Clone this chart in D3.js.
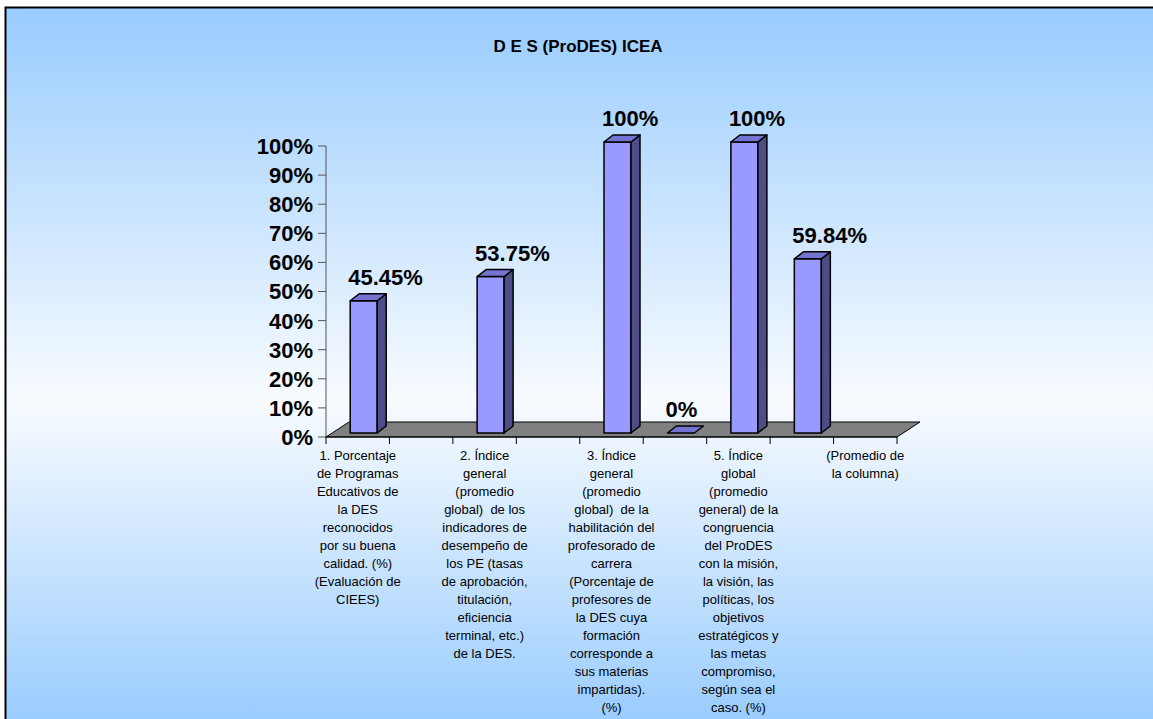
<!DOCTYPE html>
<meta charset="utf-8">
<style>
body { margin: 0; background: #fff; }
text { font-family: "Liberation Sans", Arial, sans-serif; fill: #000; }
.titre { font-size: 17px; font-weight: bold; text-anchor: middle; }
.ytick { font-size: 22px; font-weight: bold; text-anchor: end; }
.valeur { font-size: 22px; font-weight: bold; }
.cat { font-size: 13px; text-anchor: middle; white-space: pre; }
</style>
<svg width="1153" height="719" id="mysvg"></svg>
<script src="https://cdnjs.cloudflare.com/ajax/libs/d3/7.8.5/d3.min.js"></script>
<script>

var titre = "D E S (ProDES) ICEA";

// 9 categories; the chart only shows every other label
var categories = [
  "1. Porcentaje|de Programas|Educativos de|la DES|reconocidos|por su buena|calidad. (%)|(Evaluación de|CIEES)",
  "",
  "2. Índice|general|(promedio|global)  de los|indicadores de|desempeño de|los PE (tasas|de aprobación,|titulación,|eficiencia|terminal, etc.)|de la DES.",
  "",
  "3. Índice|general|(promedio|global)  de la|habilitación del|profesorado de|carrera|(Porcentaje de|profesores de|la DES cuya|formación|corresponde a|sus materias|impartidas).|(%)",
  "",
  "5. Índice|global|(promedio|general) de la|congruencia|del ProDES|con la misión,|la visión, las|políticas, los|objetivos|estratégicos y|las metas|compromiso,|según sea el|caso. (%)",
  "",
  "(Promedio de|la columna)"
];
var valeurs = [45.45, null, 53.75, null, 100, 0, 100, 59.84, null];
var etiquettes = ["45.45%", "", "53.75%", "", "100%", "0%", "100%", "59.84%", ""];
var ticks = [0, 10, 20, 30, 40, 50, 60, 70, 80, 90, 100];

var svg = d3.select("svg");

// background with gradient
var defs = svg.append("defs");
var grad = defs.append("linearGradient").attr("id", "fond")
    .attr("x1", 0).attr("y1", 0).attr("x2", 0).attr("y2", 1);
grad.append("stop").attr("offset", 0).attr("stop-color", "#99ccff");
grad.append("stop").attr("offset", 0.55).attr("stop-color", "#f8fbff");
grad.append("stop").attr("offset", 1).attr("stop-color", "#99ccff");

svg.append("rect")
    .attr("x", 5.5).attr("y", 7.5)
    .attr("width", 1160).attr("height", 716)
    .attr("fill", "url(#fond)")
    .attr("stroke", "#000").attr("stroke-width", 2);

svg.append("text").attr("class", "titre")
    .attr("x", 578).attr("y", 52)
    .text(titre);

var x = d3.scaleBand()
    .domain(d3.range(categories.length))
    .range([326, 897]);
var y = d3.scaleLinear().domain([0, 100]).range([437, 146]);

// 3D offsets
var floorDx = 23, floorDy = -15;
var barDx = 9, barDy = -7;
var shiftX = 6, shiftY = -4;
var barW = 27;

// floor
var x0 = x.range()[0], x1 = x.range()[1], y0 = y(0);
svg.append("polygon")
    .attr("points", [[x0, y0], [x1, y0], [x1 + floorDx, y0 + floorDy], [x0 + floorDx, y0 + floorDy]].join(" "))
    .attr("fill", "#808080")
    .attr("stroke", "#000").attr("stroke-width", 1);

// y axis
var yAxis = svg.append("g");
yAxis.append("line")
    .attr("x1", x0).attr("x2", x0)
    .attr("y1", y(100)).attr("y2", y0)
    .attr("stroke", "#555").attr("stroke-width", 1);
yAxis.selectAll(".tk").data(ticks).enter().append("line")
    .attr("x1", x0 - 8).attr("x2", x0)
    .attr("y1", function(d) { return y(d); })
    .attr("y2", function(d) { return y(d); })
    .attr("stroke", "#555");
yAxis.selectAll(".ytick").data(ticks).enter().append("text")
    .attr("class", "ytick")
    .attr("x", x0 - 13)
    .attr("y", function(d) { return y(d); })
    .attr("dy", "0.36em")
    .text(function(d) { return d + "%"; });

// x axis
svg.append("line")
    .attr("x1", x0).attr("x2", x1)
    .attr("y1", y0).attr("y2", y0)
    .attr("stroke", "#000");
svg.selectAll(".xtk").data(d3.range(categories.length + 1)).enter().append("line")
    .attr("x1", function(d) { return x0 + d * x.bandwidth(); })
    .attr("x2", function(d) { return x0 + d * x.bandwidth(); })
    .attr("y1", y0).attr("y2", y0 + 7)
    .attr("stroke", "#000");

// category labels
var cat = svg.selectAll(".cat").data(categories).enter().append("text")
    .attr("class", "cat")
    .attr("transform", function(d, i) { return "translate(" + (x(i) + x.bandwidth() / 2) + ",460)"; });
cat.selectAll("tspan")
    .data(function(d) { return d ? d.split("|") : []; })
    .enter().append("tspan")
    .attr("x", 0)
    .attr("y", function(d, i) { return i * 18; })
    .text(function(d) { return d; });

// bars
var data = valeurs.map(function(v, i) { return { i: i, v: v, label: etiquettes[i] }; })
    .filter(function(d) { return d.v !== null; });

var bar = svg.selectAll(".bar").data(data).enter().append("g").attr("class", "bar");

function bx(d) { return x(d.i) + (x.bandwidth() - barW) / 2 + shiftX; }
function byTop(d) { return y(d.v) + shiftY; }
var yBase = y0 + shiftY;

bar.filter(function(d) { return d.v > 0; }).append("polygon")
    .attr("points", function(d) {
      var a = bx(d), t = byTop(d);
      return [[a, t], [a + barW, t], [a + barW, yBase], [a, yBase]].join(" ");
    })
    .attr("fill", "#9999ff").attr("stroke", "#000").attr("stroke-width", 1.5).attr("stroke-linejoin", "round");

bar.filter(function(d) { return d.v > 0; }).append("polygon")
    .attr("points", function(d) {
      var a = bx(d) + barW, t = byTop(d);
      return [[a, t], [a + barDx, t + barDy], [a + barDx, yBase + barDy], [a, yBase]].join(" ");
    })
    .attr("fill", "#4d4d88").attr("stroke", "#000").attr("stroke-width", 1.5).attr("stroke-linejoin", "round");

bar.append("polygon")
    .attr("points", function(d) {
      var a = bx(d), t = byTop(d);
      return [[a, t], [a + barDx, t + barDy], [a + barW + barDx, t + barDy], [a + barW, t]].join(" ");
    })
    .attr("fill", "#7373d0").attr("stroke", "#000").attr("stroke-width", 1.5).attr("stroke-linejoin", "round");

bar.append("text")
    .attr("class", "valeur")
    .attr("x", function(d) { return bx(d) - 2; })
    .attr("y", function(d) { return byTop(d) - 16; })
    .text(function(d) { return d.label; });

</script>
